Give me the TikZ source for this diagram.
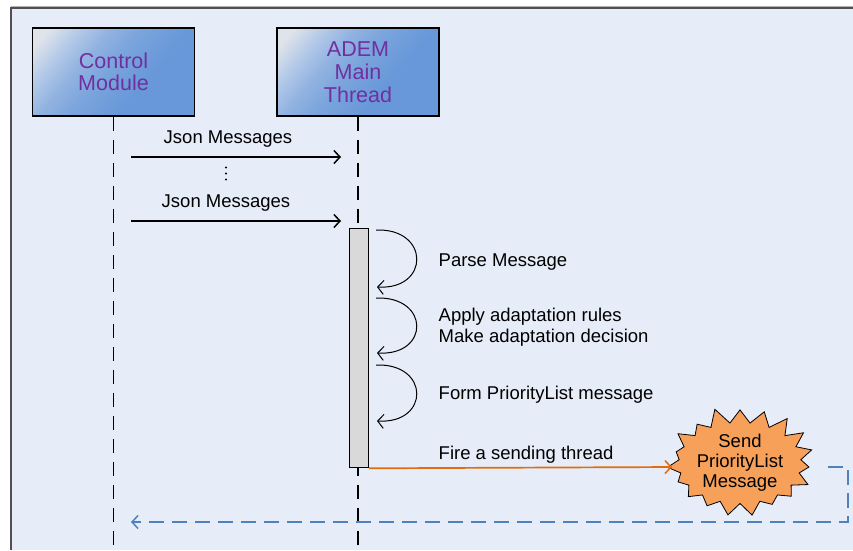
\documentclass[tikz,border=0pt]{standalone}
\usepackage{fontspec}
\setmainfont{Liberation Sans}
\usetikzlibrary{arrows.meta,shapes.symbols,calc}

\definecolor{panelbg}{HTML}{E6EDF8}
\definecolor{panelline}{HTML}{505050}
\definecolor{boxlight}{HTML}{DFE3EA}
\definecolor{boxsoft}{HTML}{B4CAE8}
\definecolor{boxmid}{HTML}{92B3E1}
\definecolor{boxblue}{HTML}{7AA4DC}
\definecolor{boxdark}{HTML}{6898D9}
\definecolor{titlepurple}{HTML}{7030A0}
\definecolor{actgray}{HTML}{D9D9D9}
\definecolor{firearrow}{HTML}{E46C0A}
\definecolor{burstfill}{HTML}{F6A05A}
\definecolor{returnblue}{HTML}{4F81BD}

% diagonal fill of the participant boxes: pale corner, mostly blue
\pgfdeclareverticalshading{participantfill}{100bp}{%
  color(0bp)=(boxdark); color(38bp)=(boxdark); color(52bp)=(boxblue);
  color(62bp)=(boxmid); color(71bp)=(boxsoft); color(80bp)=(boxlight);
  color(100bp)=(boxlight)}

\tikzset{
  participant/.style={draw=black, line width=1.6pt, minimum width=162pt, minimum height=88pt,
    inner sep=0pt, align=center, text=titlepurple,
    font=\fontsize{21.5}{23}\selectfont,
    shading=participantfill, shading angle=50},
  lifeline/.style={black, line width=1.5pt, dash pattern=on 14pt off 9pt},
  msg/.style={black, line width=1.5pt, -{Straight Barb[length=6pt,width=13pt,line width=1.5pt]}},
  msglabel/.style={font=\fontsize{18.5}{20.5}\selectfont, inner sep=0pt},
  note/.style={font=\fontsize{18.5}{20.5}\selectfont, inner sep=0pt, anchor=west, align=left},
  activation/.style={draw=black, line width=1.3pt, fill=actgray, minimum width=19pt, minimum height=239pt, inner sep=0pt},
  selfloop/.style={black, line width=1pt, -{Straight Barb[length=6pt,width=14pt,line width=1pt]}},
  firestyle/.style={firearrow, line width=1.7pt, -{Straight Barb[length=6pt,width=13pt,line width=1.5pt]}},
  returnstyle/.style={returnblue, line width=1.5pt, dash pattern=on 15pt off 8pt,
    -{Straight Barb[length=6pt,width=13pt,line width=1.5pt]}},
  burst/.style={starburst, draw=black, line width=0.8pt, fill=burstfill,
    starburst points=19, starburst point height=17pt, random starburst=11,
    minimum width=146pt, minimum height=102pt, inner sep=0pt, align=center,
    font=\fontsize{18.5}{20}\selectfont},
}

\begin{document}
\begin{tikzpicture}[x=1pt, y=-1pt]
  % page and panel
  \fill[white] (0,0) rectangle (853,550);
  \useasboundingbox (0,0) rectangle (853,550);
  \fill[panelbg] (11,8) rectangle (853,550);
  \draw[gray!60, line width=0.8pt] (11,6.6) -- (853,6.6);
  \draw[panelline, line width=1.4pt] (11,550) -- (11,8) -- (853,8);

  % participants
  \node[participant] (ctrl) at (113.5,72) {Control\\[-1pt]Module};
  \node[participant] (adem) at (358,72) {ADEM\\[0pt]Main\\[0pt]Thread};

  % lifelines
  \coordinate (ctrlEnd) at (113.5,545);
  \coordinate (ademEnd) at (358,545);
  \draw[lifeline] (ctrl.south) -- (ctrlEnd);
  \draw[lifeline] (adem.south) -- (ademEnd);

  % activation bar
  \node[activation, anchor=north west] (act) at (348.5,228) {};

  % incoming messages
  \coordinate (m1s) at (131,157);  \coordinate (m1e) at (341,157);
  \coordinate (m2s) at (131,221);  \coordinate (m2e) at (341,221);
  \draw[msg] (m1s) -- (m1e);
  \draw[msg] (m2s) -- (m2e);
  \node[msglabel] (lab1) at (228,139.5) {Json Messages};
  \node[msglabel] (lab2) at (226,203.5) {Json Messages};
  \foreach \yy in {167.5,173.5,179.5}
    \fill[black] (226,\yy) circle (1.1pt);

  % self calls
  \coordinate (l1s) at (376,230);  \coordinate (l1e) at (377,287);
  \coordinate (l2s) at (376,298);  \coordinate (l2e) at (377,353);
  \coordinate (l3s) at (376,365);  \coordinate (l3e) at (377,421);
  \draw[selfloop] (l1s) .. controls (430,228) and (430,290) .. (l1e);
  \draw[selfloop] (l2s) .. controls (430,296) and (430,356) .. (l2e);
  \draw[selfloop] (l3s) .. controls (430,363) and (430,424) .. (l3e);

  \node[note] (n1) at (438.5,262.5) {Parse Message};
  \node[note] (n2) at (438.5,327) {Apply adaptation rules\\Make adaptation decision};
  \node[note] (n3) at (438.5,394.5) {Form PriorityList message};
  \node[note] (n4) at (438.5,454.5) {Fire a sending thread};

  % sending thread
  \node[burst] (send) at (740,463) {Send\\PriorityList\\Message};
  \coordinate (fireTip) at (672,467);
  \draw[firestyle] (act.south east) -- (fireTip);

  % reply back to the control module
  \coordinate (retStart) at (828,467);
  \coordinate (retCorner) at (848,522);
  \coordinate (retEnd) at (131,522);
  \draw[returnstyle] (retStart) -- (retStart -| retCorner) -- (retCorner) -- (retEnd);
\end{tikzpicture}
\end{document}
